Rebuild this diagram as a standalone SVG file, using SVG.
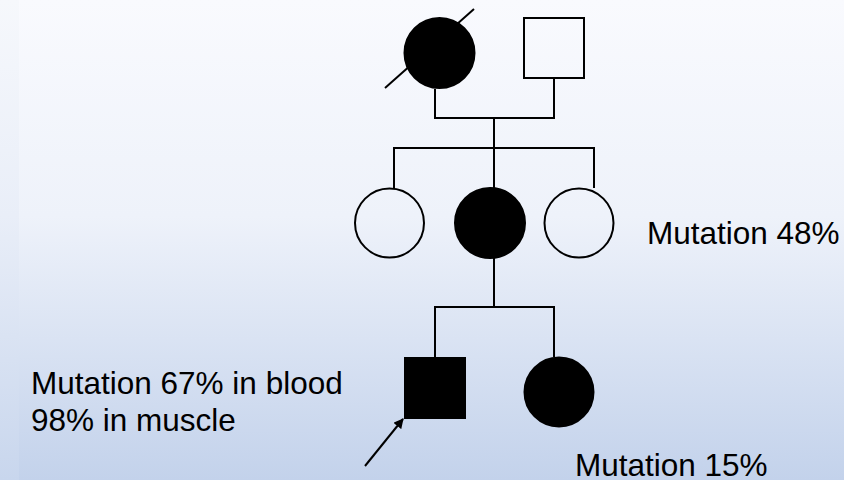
<svg xmlns="http://www.w3.org/2000/svg" width="844" height="480" viewBox="0 0 844 480">
<defs>
<linearGradient id="bg" x1="0" y1="0" x2="0" y2="1">
<stop offset="0" stop-color="#f9fafe"/>
<stop offset="0.45" stop-color="#eef2fa"/>
<stop offset="1" stop-color="#c3d2eb"/>
</linearGradient>
<linearGradient id="bg2" x1="0" y1="0" x2="0" y2="1">
<stop offset="0" stop-color="#f6f8fc"/>
<stop offset="0.45" stop-color="#e9eef8"/>
<stop offset="1" stop-color="#c8d6ed"/>
</linearGradient>
<marker id="ah" viewBox="0 0 10 10" refX="9" refY="5" markerWidth="5" markerHeight="5" orient="auto" markerUnits="strokeWidth">
<path d="M0,0 L10,5 L0,10 z" fill="#000"/>
</marker>
</defs>
<style>
.ln{fill:none;stroke:#000;stroke-width:2}
.open{fill:none;stroke:#000;stroke-width:2}
.fill{fill:#000;stroke:#000;stroke-width:2}
.t{font-family:"Liberation Sans",Arial,sans-serif;font-size:31.5px;fill:#000}
</style>
<rect width="844" height="480" fill="url(#bg)"/>
<rect width="19" height="480" fill="url(#bg2)"/>
<g id="connectors">
<polyline class="ln" points="435,89 435,118 554,118 554,78"/>
<line class="ln" x1="494" y1="118" x2="494" y2="307"/>
<polyline class="ln" points="394,188 394,148 594,148 594,188"/>
<polyline class="ln" points="435,357 435,307 554,307 554,357"/>
<line class="ln" x1="365" y1="466" x2="403" y2="419" marker-end="url(#ah)"/>
</g>
<g id="grandmother">
<circle class="fill" cx="439.5" cy="53" r="35"/>
<line class="ln" x1="385" y1="88" x2="474" y2="9"/>
</g>
<g id="grandfather">
<rect class="open" x="524" y="18" width="60" height="60"/>
</g>
<g id="aunt1">
<circle class="open" cx="389.5" cy="223" r="34.5"/>
</g>
<g id="mother">
<circle class="fill" cx="490" cy="223" r="35"/>
</g>
<g id="aunt2">
<circle class="open" cx="579" cy="223" r="34.5"/>
</g>
<g id="proband">
<rect class="fill" x="405" y="358" width="60" height="60"/>
</g>
<g id="sister">
<circle class="fill" cx="559" cy="392" r="34.5"/>
</g>
<g id="labels">
<text class="t" x="647" y="244">Mutation 48%</text>
<text class="t" x="31" y="394">Mutation 67% in blood</text>
<text class="t" x="31" y="431">98% in muscle</text>
<text class="t" x="575" y="476">Mutation 15%</text>
</g>
</svg>
